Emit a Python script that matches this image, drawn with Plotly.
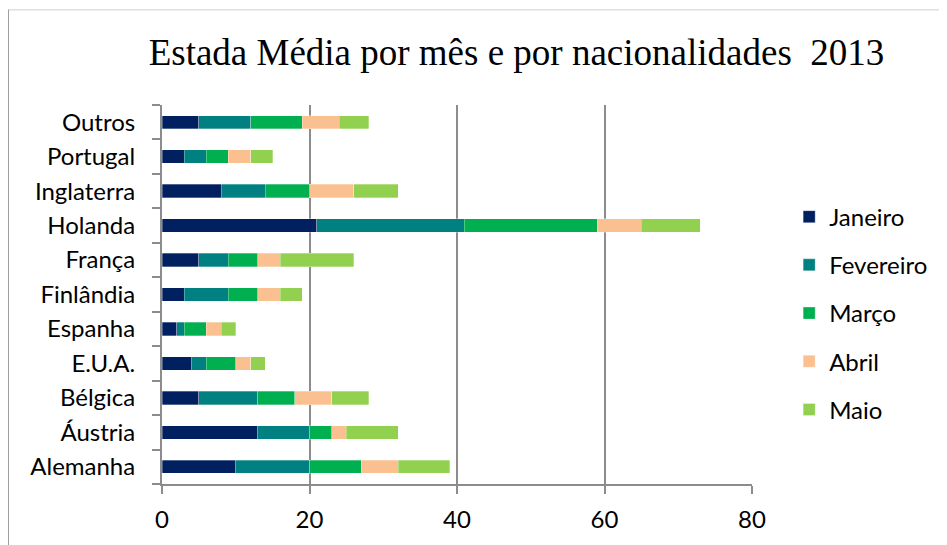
import plotly.graph_objects as go

countries = ["Alemanha", "Áustria", "Bélgica", "E.U.A.", "Espanha", "Finlândia",
             "França", "Holanda", "Inglaterra", "Portugal", "Outros"]
months = ["Janeiro", "Fevereiro", "Março", "Abril", "Maio"]
janeiro = [10, 13, 5, 4, 2, 3, 5, 21, 8, 3, 5]
fevereiro = [10, 7, 8, 2, 1, 6, 4, 20, 6, 3, 7]
marco = [7, 3, 5, 4, 3, 4, 4, 18, 6, 3, 7]
abril = [5, 2, 5, 2, 2, 3, 3, 6, 6, 3, 5]
maio = [7, 7, 5, 2, 2, 3, 10, 8, 6, 3, 4]
colors = ["#002060", "#008080", "#00B050", "#FAC090", "#92D050"]
x_ticks = [0, 20, 40, 60, 80]

series = [janeiro, fevereiro, marco, abril, maio]

fig = go.Figure()
for i, (name, vals, col) in enumerate(zip(months, series, colors)):
    fig.add_trace(go.Bar(
        y=countries, x=vals, name=name, orientation="h",
        marker=dict(color=col, line=dict(color="rgba(255,255,255,0.6)", width=0.5)),
        width=0.39, legendgroup=name,
    ))

font_sans = "Lato, 'Open Sans', sans-serif"
fig.update_layout(
    barmode="stack",
    width=939, height=537,
    margin=dict(l=154, r=195, t=97, b=61, autoexpand=False),
    paper_bgcolor="white", plot_bgcolor="white",
    title=dict(text="Estada Média por mês e por nacionalidades  2013",
               font=dict(family="'Liberation Serif', 'Times New Roman', serif", size=37, color="black"),
               x=0.5415, xanchor="center", y=0.918, yanchor="middle"),
    legend=dict(x=1.063, xanchor="left", y=0.451, yanchor="middle",
                font=dict(family=font_sans, size=24, color="black"),
                tracegroupgap=14, traceorder="grouped", itemwidth=30,
                bgcolor="rgba(0,0,0,0)"),
    xaxis=dict(range=[0, 80], tickvals=x_ticks, showgrid=True, gridcolor="#8c8c8c", gridwidth=2,
               showline=True, linecolor="#8c8c8c", linewidth=2, ticks="outside", ticklen=8,
               tickcolor="#8c8c8c", tickwidth=2, zeroline=False, automargin=False,
               ticklabelstandoff=5,
               tickfont=dict(family=font_sans, size=24, color="black"), mirror=False),
    yaxis=dict(showgrid=False, showline=True, linecolor="#8c8c8c", linewidth=2, automargin=False,
               ticks="outside", ticklen=8, tickcolor="#8c8c8c", tickwidth=2, tickson="boundaries",
               tickfont=dict(family=font_sans, size=24, color="black"), ticklabelstandoff=20),
    shapes=[
        dict(type="line", xref="paper", yref="paper", x0=-0.261, x1=1.35, y0=1.251, y1=1.251,
             line=dict(color="#e0e0e0", width=1.5)),
        dict(type="line", xref="paper", yref="paper", x0=-0.261, x1=-0.261, y0=1.251, y1=-0.2,
             line=dict(color="#808080", width=1.5)),
    ],
)

fig.write_html("out.html")
